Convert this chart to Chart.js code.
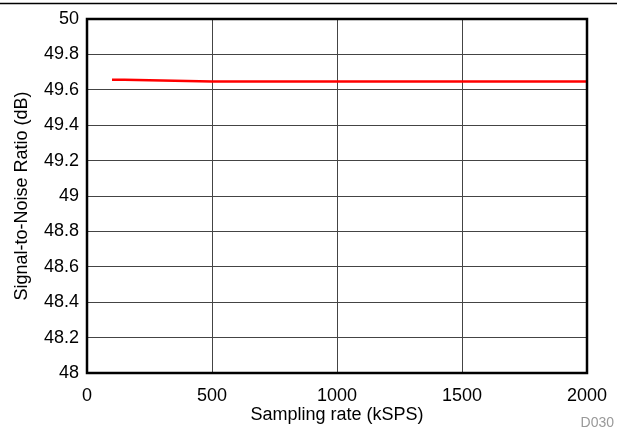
<!DOCTYPE html>
<html>
<head>
<meta charset="utf-8">
<script src="https://cdn.jsdelivr.net/npm/chart.js@4"></script>
<style>
  html, body { margin: 0; padding: 0; background: #fff; }
  #wrap { width: 617px; height: 430px; position: relative; }
</style>
</head>
<body>
<div id="wrap"><canvas id="snrChart"></canvas></div>
<script>
const samplingRates = [100, 200, 500, 1000, 1500, 2000];
const snrValues = [49.657, 49.656, 49.647, 49.647, 49.647, 49.647];
const xTicks = [0, 500, 1000, 1500, 2000];
const yTicks = [48, 48.2, 48.4, 48.6, 48.8, 49, 49.2, 49.4, 49.6, 49.8, 50];

const frame = {
    id: 'frame',
    afterDraw(chart) {
        const c = chart.ctx, a = chart.chartArea;
        c.save();
        c.strokeStyle = '#000';
        c.lineWidth = 2.5;
        c.strokeRect(a.left, a.top, a.right - a.left, a.bottom - a.top);
        c.lineWidth = 1.5;
        c.beginPath();
        c.moveTo(0, 3.5);
        c.lineTo(chart.width, 3.5);
        c.stroke();
        c.fillStyle = '#999';
        c.font = '14px "Liberation Sans", Arial, sans-serif';
        c.textAlign = 'right';
        c.textBaseline = 'middle';
        c.fillText('D030', 614, 423);
        c.restore();
    }
};

const font = { family: '"Liberation Sans", Arial, sans-serif', size: 18 };

new Chart(document.getElementById('snrChart'), {
    type: 'line',
    data: {
        datasets: [{
            data: samplingRates.map((x, i) => ({ x: x, y: snrValues[i] })),
            borderColor: 'rgb(255, 0, 0)',
            borderWidth: 2.5,
            pointRadius: 0,
            tension: 0.2,
            fill: false
        }]
    },
    options: {
        responsive: true,
        maintainAspectRatio: false,
        animation: false,
        layout: { padding: { left: 0, right: 30, top: 19, bottom: 0 } },
        plugins: { legend: { display: false }, tooltip: { enabled: false } },
        scales: {
            x: {
                type: 'linear',
                min: 0,
                max: 2000,
                afterBuildTicks: s => { s.ticks = xTicks.map(v => ({ value: v })); },
                afterFit: s => { s.height = 57; s.paddingLeft = 0; s.paddingRight = 0; },
                grid: { color: '#444', lineWidth: 1, drawTicks: false },
                border: { display: false },
                ticks: { color: '#000', font: font, padding: 12, maxRotation: 0, callback: v => String(v) },
                title: { display: true, text: 'Sampling rate (kSPS)', color: '#000', font: font, padding: { top: 0, bottom: 4 } }
            },
            y: {
                type: 'linear',
                min: 48,
                max: 50,
                afterBuildTicks: s => { s.ticks = yTicks.map(v => ({ value: v })); },
                afterFit: s => { s.width = 87; s.paddingTop = 0; s.paddingBottom = 0; },
                grid: { color: '#444', lineWidth: 1, drawTicks: false },
                border: { display: false },
                ticks: { color: '#000', font: font, padding: 8, callback: v => String(+v.toFixed(1)) },
                title: { display: true, text: 'Signal-to-Noise Ratio (dB)', color: '#000', font: font, padding: { top: 11, bottom: 0 } }
            }
        }
    },
    plugins: [frame]
});
</script>
</body>
</html>
